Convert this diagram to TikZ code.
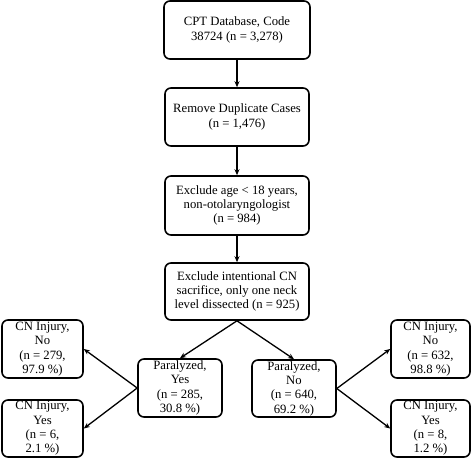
\documentclass[tikz,border=0pt]{standalone}
\usepackage{fontspec}
\setmainfont{Liberation Serif}
\usetikzlibrary{arrows.meta}
\begin{document}
\begin{tikzpicture}[x=1pt,y=1pt,
  box/.style={draw=black, line width=1.6pt, rounded corners=6pt, fill=white,
    align=center, inner sep=0pt, font=\fontsize{12.7}{14.3}\selectfont},
  arr/.style={line width=1.3pt, -{Stealth[length=6pt,width=5pt]}}]
\useasboundingbox (0,0) rectangle (474,-458);
\clip (0,0) rectangle (474,-458);
\node[box, minimum width=146pt, minimum height=58pt] (b1) at (237,-30) {CPT Database, Code\\38724 (n = 3,278)};
\node[box, minimum width=144pt, minimum height=58pt] (b2) at (237,-117) {Remove Duplicate Cases\\(n = 1,476)};
\node[box, minimum width=144pt, minimum height=59pt] (b3) at (237,-205.5) {Exclude age < 18 years,\\non-otolaryngologist\\(n = 984)};
\node[box, minimum width=144pt, minimum height=57pt] (b4) at (237,-291.5) {Exclude intentional CN\\sacrifice, only one neck\\level dissected (n = 925)};
\node[box, minimum width=84pt, minimum height=58pt] (py) at (180,-388) {Paralyzed,\\Yes\\(n = 285,\\30.8 \%)};
\node[box, minimum width=84pt, minimum height=57pt] (pn) at (294,-388.5) {Paralyzed,\\No\\(n = 640,\\69.2 \%)};
\node[box, minimum width=81pt, minimum height=58pt] (cnl) at (42.5,-349) {CN Injury,\\No\\(n = 279,\\97.9 \%)};
\node[box, minimum width=81pt, minimum height=57pt] (cyl) at (42.5,-428.5) {CN Injury,\\Yes\\(n = 6,\\2.1 \%)};
\node[box, minimum width=79pt, minimum height=58pt] (cnr) at (430.5,-349) {CN Injury,\\No\\(n = 632,\\98.8 \%)};
\node[box, minimum width=79pt, minimum height=57pt] (cyr) at (430.5,-428.5) {CN Injury,\\Yes\\(n = 8,\\1.2 \%)};
\draw[arr] (b1) -- (b2);
\draw[arr] (b2) -- (b3);
\draw[arr] (b3) -- (b4);
\draw[arr] (b4.south) -- (py.north);
\draw[arr] (b4.south) -- (pn.north);
\draw[arr] (py.west) -- (cnl.east);
\draw[arr] (py.west) -- (cyl.east);
\draw[arr] (pn.east) -- (cnr.west);
\draw[arr] (pn.east) -- (cyr.west);
\end{tikzpicture}
\end{document}
